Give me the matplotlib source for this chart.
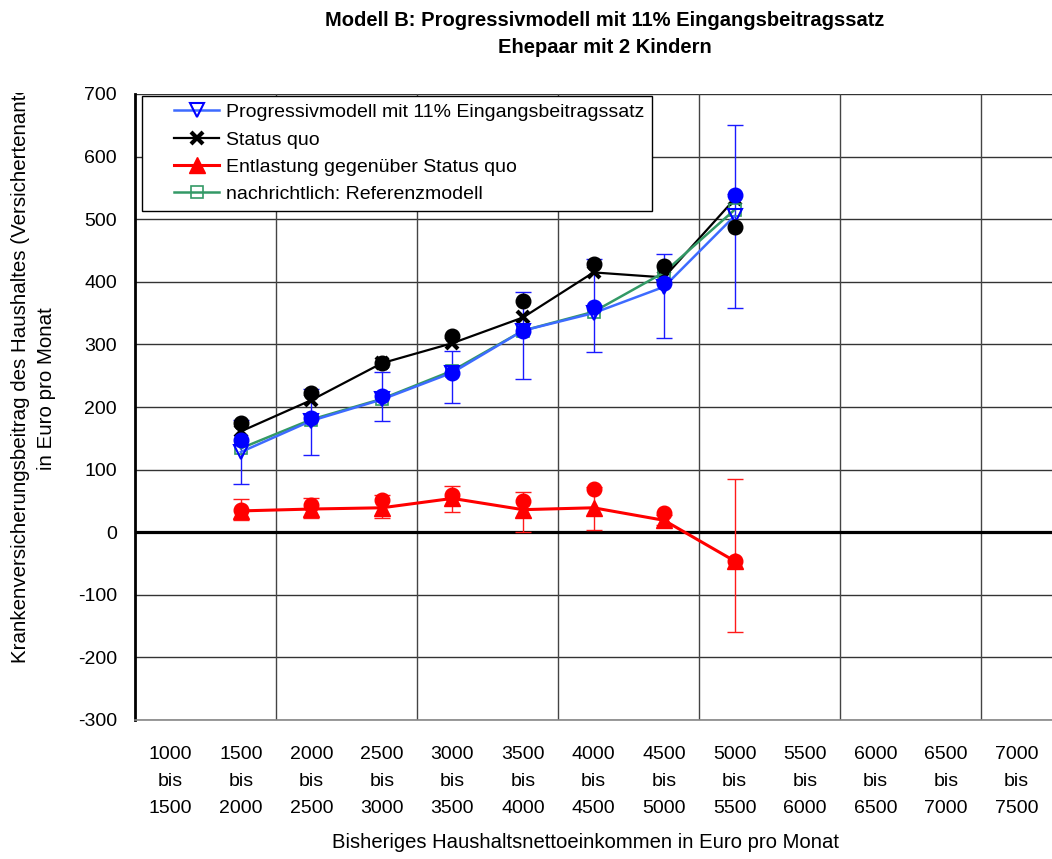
import matplotlib
matplotlib.use('Agg')
import matplotlib.pyplot as plt
import numpy as np
from matplotlib.legend_handler import HandlerLine2D
from matplotlib.transforms import Bbox, TransformedBbox

plt.rcParams['font.family'] = ['Liberation Sans', 'DejaVu Sans']
plt.rcParams['axes.unicode_minus'] = False

# income classes on the x axis
lower = [1000, 1500, 2000, 2500, 3000, 3500, 4000, 4500, 5000, 5500, 6000, 6500, 7000]
labels = ['%d\nbis\n%d' % (a, a + 500) for a in lower]

# data exists for the classes 1500-2000 .. 5000-5500 (index 1..8)
idx = [1, 2, 3, 4, 5, 6, 7, 8]

progressiv = [128, 178, 212, 255, 322, 350, 392, 505]
progressiv_pts = [147, 182, 217, 254, 322, 360, 398, 539]
progressiv_lo = [77, 124, 177, 206, 245, 288, 310, 358]
progressiv_hi = [179, 228, 256, 290, 383, 437, 444, 650]

status_quo = [161, 211, 270, 302, 343, 415, 407, 532]
status_quo_pts = [174, 222, 270, 313, 370, 429, 425, 488]

entlastung = [34, 37, 39, 54, 36, 39, 19, -46]
entlastung_pts = [36, 44, 52, 60, 50, 69, 30, -46]
entlastung_lo = [20, 22, 23, 33, 0, 3, 12, -160]
entlastung_hi = [53, 55, 60, 74, 65, 72, 27, 85]

referenz = [134, 180, 213, 258, 322, 352, 415, 515]

fig = plt.figure(figsize=(10.52, 8.59), dpi=100)
ax = fig.add_axes([135 / 1052, 1 - 720 / 859, 1 - 135 / 1052, 626 / 859])

# grid
for yv in range(-300, 701, 100):
    ax.axhline(yv, color='#333333', lw=1, zorder=0)
for xv in [1.5, 3.5, 5.5, 7.5, 9.5, 11.5]:
    ax.axvline(xv, color='#444444', lw=1, zorder=0)
ax.axhline(0, color='black', lw=2.3, zorder=1)

# error bars
p = np.array(progressiv)
ax.errorbar(idx, p, yerr=[p - np.array(progressiv_lo), np.array(progressiv_hi) - p],
            fmt='none', ecolor='#1a1aff', elinewidth=1, capsize=6, capthick=1, zorder=2)
e = np.array(entlastung)
ax.errorbar(idx, e, yerr=[e - np.array(entlastung_lo), np.array(entlastung_hi) - e],
            fmt='none', ecolor='#ff1a1a', elinewidth=1, capsize=6, capthick=1, zorder=2)

l_prog, = ax.plot(idx, progressiv, color='#3d6bff', lw=1.8, marker='v', ms=10,
                  mfc='none', mec='#0000ff', mew=1.5, zorder=4,
                  label='Progressivmodell mit 11% Eingangsbeitragssatz')
l_sq, = ax.plot(idx, status_quo, color='black', lw=1.6, marker='x', ms=9, mew=3,
                zorder=3, label='Status quo')
l_ent, = ax.plot(idx, entlastung, color='#ff0000', lw=2.2, marker='^', ms=11,
                 zorder=3, label='Entlastung gegenüber Status quo')
l_ref, = ax.plot(idx, referenz, color='#339966', lw=1.8, marker='s', ms=8,
                 mfc='none', mec='#339966', mew=1.2, zorder=3,
                 label='nachrichtlich: Referenzmodell')

# single points (no legend entry)
ax.plot(idx, status_quo_pts, 'o', color='black', ms=10.5, zorder=5)
ax.plot(idx, entlastung_pts, 'o', color='#ff0000', ms=10.5, zorder=5)
ax.plot(idx, progressiv_pts, 'o', color='#0000ff', ms=10.5, zorder=6)

ax.set_xlim(-0.5, 12.5)
ax.set_ylim(-300, 700)
ax.set_yticks(range(-300, 701, 100))
ax.set_xticks(range(len(lower)))
ax.set_xticklabels(labels, linespacing=1.8)
ax.tick_params(axis='y', length=0, pad=13, labelsize=14)
ax.tick_params(axis='x', length=0, pad=18.5, labelsize=14)

for s in ['top', 'right']:
    ax.spines[s].set_visible(False)
ax.spines['left'].set_linewidth(2)
ax.spines['bottom'].set_color('#888888')
ax.spines['bottom'].set_linewidth(1.2)

hm = {h: HandlerLine2D(xpad=1.25) for h in [l_prog, l_sq, l_ent, l_ref]}
leg = ax.legend(handles=[l_prog, l_sq, l_ent, l_ref], loc='upper left',
                bbox_to_anchor=(0.0076, 0.997), borderaxespad=0, fontsize=14,
                handlelength=3.56, handletextpad=0.36, labelspacing=0.5,
                borderpad=0.4, fancybox=False, framealpha=1,
                edgecolor='black', handler_map=hm)
leg.get_frame().set_linewidth(1)
leg.set_zorder(10)

fig.text(605 / 1052, 1 - 34 / 859, 'Modell B: Progressivmodell mit 11% Eingangsbeitragssatz\nEhepaar mit 2 Kindern',
         ha='center', va='center', fontsize=14.5, fontweight='bold', linespacing=1.58)

yl = fig.text(21 / 1052, 1 - 663 / 859,
              'Krankenversicherungsbeitrag des Haushaltes (Versichertenanteil)',
              rotation=90, ha='center', va='bottom', fontsize=14.8)
yl.set_clip_box(TransformedBbox(Bbox([[0, 0], [1, 1 - 93 / 859]]), fig.transFigure))
yl.set_clip_on(True)
fig.text(47 / 1052, 1 - 389 / 859, 'in Euro pro Monat', rotation=90,
         ha='center', va='center', fontsize=14.8)

fig.text(585 / 1052, 1 - 842 / 859, 'Bisheriges Haushaltsnettoeinkommen in Euro pro Monat',
         ha='center', va='center', fontsize=14.6)

fig.savefig('out.png', dpi=100)
